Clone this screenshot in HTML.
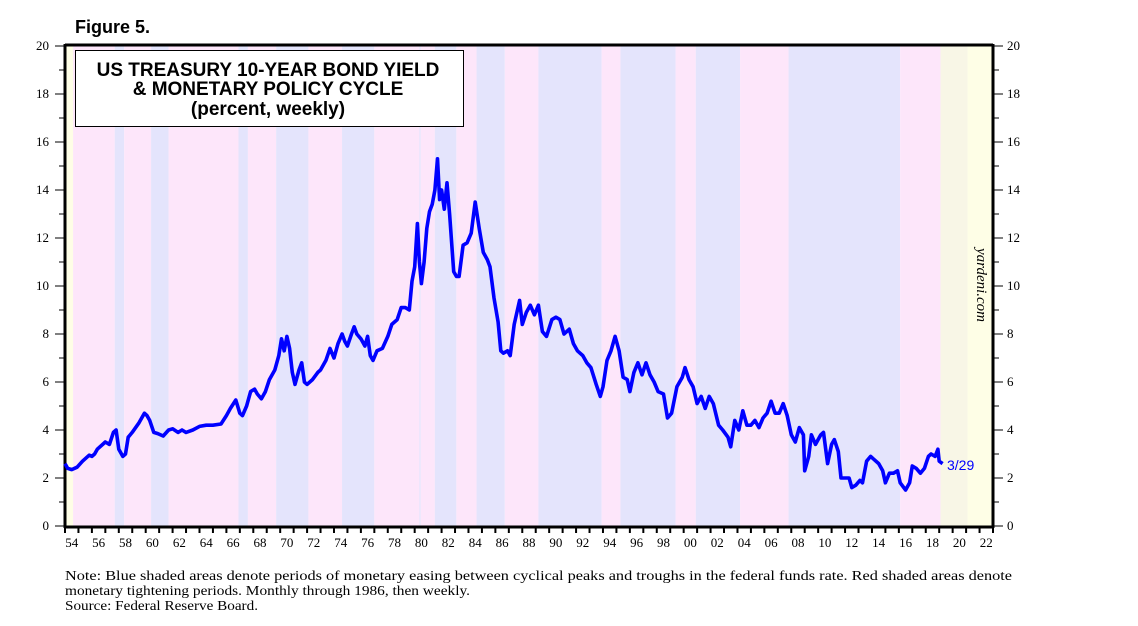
<!DOCTYPE html>
<html><head><meta charset="utf-8">
<style>
html,body{margin:0;padding:0;background:#fff;width:1138px;height:626px;overflow:hidden}
svg{display:block}
.t{font-family:"Liberation Serif",serif;font-size:13px;fill:#000}
</style></head>
<body>
<svg id="chart" width="1138" height="626" viewBox="0 0 1138 626" xmlns="http://www.w3.org/2000/svg">
<text x="75" y="33" font-family="Liberation Sans, sans-serif" font-weight="bold" font-size="18">Figure 5.</text>
<g id="shade"></g>
<g id="axes"></g>
<path id="line" fill="none" stroke="#0000ff" stroke-width="3.6" stroke-linejoin="round"/>
<rect x="75.5" y="50.5" width="388" height="76" fill="#fff" stroke="#000" stroke-width="1"/>
<g font-family="Liberation Sans, sans-serif" font-weight="bold" font-size="19" text-anchor="middle">
<text x="268" y="76">US TREASURY 10-YEAR BOND YIELD</text>
<text x="268" y="95">&amp; MONETARY POLICY CYCLE</text>
<text x="268" y="115">(percent, weekly)</text>
</g>
<text transform="translate(977,285) rotate(90)" text-anchor="middle" font-family="Liberation Serif, serif" font-style="italic" font-size="15">yardeni.com</text>
<text x="947" y="470" font-family="Liberation Sans, sans-serif" font-size="14" fill="#0000ff">3/29</text>
<g font-family="Liberation Serif, serif" font-size="14">
<text x="65" y="580" textLength="947" lengthAdjust="spacingAndGlyphs">Note: Blue shaded areas denote periods of monetary easing between cyclical peaks and troughs in the federal funds rate. Red shaded areas denote</text>
<text x="65" y="595" textLength="405" lengthAdjust="spacingAndGlyphs">monetary tightening periods. Monthly through 1986, then weekly.</text>
<text x="65" y="610" textLength="193" lengthAdjust="spacingAndGlyphs">Source: Federal Reserve Board.</text>
</g>
</svg>
<script>
const yieldYears=[1954.0,1954.2,1954.5,1954.9,1955.3,1955.8,1956.0,1956.2,1956.4,1956.8,1957.0,1957.3,1957.6,1957.8,1958.0,1958.3,1958.5,1958.7,1959.0,1959.5,1959.9,1960.1,1960.3,1960.6,1960.9,1961.3,1961.7,1962.0,1962.4,1962.7,1963.0,1963.5,1964.0,1964.5,1965.0,1965.6,1966.0,1966.3,1966.7,1967.0,1967.2,1967.5,1967.8,1968.1,1968.3,1968.6,1968.9,1969.2,1969.6,1969.9,1970.1,1970.3,1970.5,1970.7,1970.9,1971.1,1971.4,1971.6,1971.8,1972.0,1972.4,1972.8,1973.0,1973.4,1973.7,1974.0,1974.3,1974.6,1974.8,1975.0,1975.3,1975.5,1975.7,1976.0,1976.3,1976.5,1976.7,1976.9,1977.2,1977.6,1978.0,1978.3,1978.7,1979.0,1979.3,1979.6,1979.8,1980.0,1980.2,1980.35,1980.5,1980.7,1980.9,1981.1,1981.3,1981.5,1981.7,1981.85,1982.0,1982.2,1982.4,1982.6,1982.9,1983.1,1983.3,1983.6,1983.9,1984.2,1984.5,1984.8,1985.1,1985.4,1985.6,1985.9,1986.2,1986.4,1986.6,1986.9,1987.1,1987.4,1987.6,1987.8,1988.0,1988.3,1988.6,1988.9,1989.2,1989.5,1989.8,1990.2,1990.5,1990.8,1991.1,1991.5,1991.8,1992.1,1992.5,1992.8,1993.1,1993.5,1993.8,1994.0,1994.3,1994.6,1994.9,1995.2,1995.5,1995.8,1996.0,1996.3,1996.6,1996.9,1997.2,1997.5,1997.8,1998.1,1998.5,1998.8,1999.1,1999.5,1999.9,2000.1,2000.4,2000.7,2001.0,2001.3,2001.6,2001.9,2002.2,2002.6,2002.9,2003.3,2003.5,2003.8,2004.1,2004.4,2004.7,2005.0,2005.3,2005.6,2005.9,2006.2,2006.5,2006.8,2007.1,2007.4,2007.7,2008.0,2008.3,2008.6,2008.9,2009.0,2009.3,2009.5,2009.8,2010.2,2010.4,2010.7,2011.0,2011.2,2011.5,2011.7,2012.0,2012.3,2012.5,2012.8,2013.1,2013.3,2013.6,2013.9,2014.1,2014.5,2014.8,2015.0,2015.3,2015.6,2015.9,2016.1,2016.5,2016.8,2017.0,2017.3,2017.6,2017.9,2018.2,2018.4,2018.7,2018.9,2019.0,2019.25];
const yieldValues=[2.6,2.4,2.35,2.45,2.7,2.95,2.9,3.0,3.2,3.4,3.5,3.4,3.9,4.0,3.2,2.9,3.0,3.7,3.9,4.3,4.7,4.6,4.4,3.9,3.85,3.75,4.0,4.05,3.9,4.0,3.9,4.0,4.15,4.2,4.2,4.25,4.6,4.9,5.25,4.7,4.6,5.0,5.6,5.7,5.5,5.3,5.6,6.1,6.5,7.1,7.8,7.3,7.9,7.4,6.4,5.9,6.5,6.8,6.0,5.9,6.1,6.4,6.5,6.9,7.4,7.0,7.6,8.0,7.7,7.5,8.0,8.3,8.0,7.8,7.5,7.9,7.1,6.9,7.3,7.4,7.9,8.4,8.6,9.1,9.1,9.0,10.2,10.8,12.6,11.0,10.1,11.0,12.4,13.1,13.4,14.0,15.3,13.6,14.0,13.2,14.3,13.0,10.6,10.4,10.4,11.7,11.8,12.2,13.5,12.4,11.4,11.1,10.8,9.5,8.5,7.3,7.2,7.3,7.1,8.4,8.9,9.4,8.4,8.9,9.2,8.8,9.2,8.1,7.9,8.6,8.7,8.6,8.0,8.2,7.6,7.3,7.1,6.8,6.6,5.9,5.4,5.8,6.9,7.3,7.9,7.3,6.2,6.1,5.6,6.4,6.8,6.3,6.8,6.3,6.0,5.6,5.5,4.5,4.7,5.8,6.2,6.6,6.1,5.8,5.1,5.4,4.9,5.4,5.1,4.2,4.0,3.7,3.3,4.4,4.0,4.8,4.2,4.2,4.4,4.1,4.5,4.7,5.2,4.7,4.7,5.1,4.6,3.8,3.5,4.1,3.8,2.3,2.9,3.8,3.4,3.8,3.9,2.6,3.4,3.6,3.1,2.0,2.0,2.0,1.6,1.7,1.9,1.8,2.7,2.9,2.8,2.6,2.3,1.8,2.2,2.2,2.3,1.8,1.5,1.8,2.5,2.4,2.2,2.4,2.9,3.0,2.9,3.2,2.7,2.6];
const shadeStarts=[1954.0,1954.6,1957.7,1958.4,1960.4,1961.7,1966.9,1967.6,1969.7,1972.1,1974.6,1977.0,1980.35,1980.45,1981.5,1983.1,1984.6,1986.7,1989.2,1993.9,1995.3,1999.4,2000.9,2004.2,2007.8,2016.1,2019.1,2021.1];
const shadeTypes=["y","t","e","t","e","t","e","t","e","t","e","t","e","t","e","t","e","t","e","t","e","t","e","t","e","t","f","y"];
const yTicks=[0,2,4,6,8,10,12,14,16,18,20];
const xLabels=["54","56","58","60","62","64","66","68","70","72","74","76","78","80","82","84","86","88","90","92","94","96","98","00","02","04","06","08","10","12","14","16","18","20","22"];

const X0=65,X1=993,Y0=526,Y1=46,YEAR0=1954,YEAR1=2023;
const xs=y=>X0+(y-YEAR0)*(X1-X0)/(YEAR1-YEAR0);
const ys=v=>Y0-(v/20)*(Y0-Y1);
const NS="http://www.w3.org/2000/svg";
const colors={y:"#fefee6",t:"#fde6fa",e:"#e4e4fc",f:"#f8f6e6"};
const shade=document.getElementById('shade');
for(let i=0;i<shadeStarts.length;i++){
  const s=shadeStarts[i], e=i+1<shadeStarts.length?shadeStarts[i+1]:YEAR1;
  const r=document.createElementNS(NS,'rect');
  
  
  r.setAttribute('x',xs(s));r.setAttribute('y',Y1);
  r.setAttribute('width',Math.max(0,xs(e)-xs(s)));r.setAttribute('height',Y0-Y1);
  r.setAttribute('fill',colors[shadeTypes[i]]);
  shade.appendChild(r);
}
const ax=document.getElementById('axes');
function ln(x1,y1,x2,y2,w,name){const l=document.createElementNS(NS,'line');
  l.setAttribute('x1',x1);l.setAttribute('y1',y1);l.setAttribute('x2',x2);l.setAttribute('y2',y2);
  l.setAttribute('stroke','#000');l.setAttribute('stroke-width',w);
  
  
  ax.appendChild(l);}
function tx(x,y,s,anchor,name){const t=document.createElementNS(NS,'text');
  t.setAttribute('x',x);t.setAttribute('y',y);t.setAttribute('class','t');t.setAttribute('text-anchor',anchor);t.textContent=s;
  
  
  ax.appendChild(t);}
for(let v=0;v<=20;v++){
  const len=v%2===0?10:6;
  ln(X0-len,ys(v),X0,ys(v),1,'y-tick-left');
  ln(X1,ys(v),X1+len,ys(v),1,'y-tick-right');
}
yTicks.forEach(v=>{tx(49,ys(v)+4,String(v),'end','y-label-left');tx(1007,ys(v)+4,String(v),'start','y-label-right');});
for(let yr=YEAR0;yr<=YEAR1;yr++){ln(xs(yr),Y0,xs(yr),Y0+7,2,'x-tick');}
xLabels.forEach((s,i)=>{tx(xs(YEAR0+2*i+0.5),Y0+21,s,'middle','x-label');});
ln(X0,Y1-1,X1,Y1-1,3,'plot-top-border');
ln(X0,Y0+1,X1,Y0+1,3,'x-axis');
ln(X0,Y1-2,X0,Y0+2,3,'y-axis-left');
ln(X1,Y1-2,X1,Y0+2,3,'y-axis-right');
let d='';
for(let i=0;i<yieldYears.length;i++){d+=(i?'L':'M')+xs(yieldYears[i]).toFixed(1)+','+ys(yieldValues[i]).toFixed(1);}
document.getElementById('line').setAttribute('d',d);
</script>
</body></html>
